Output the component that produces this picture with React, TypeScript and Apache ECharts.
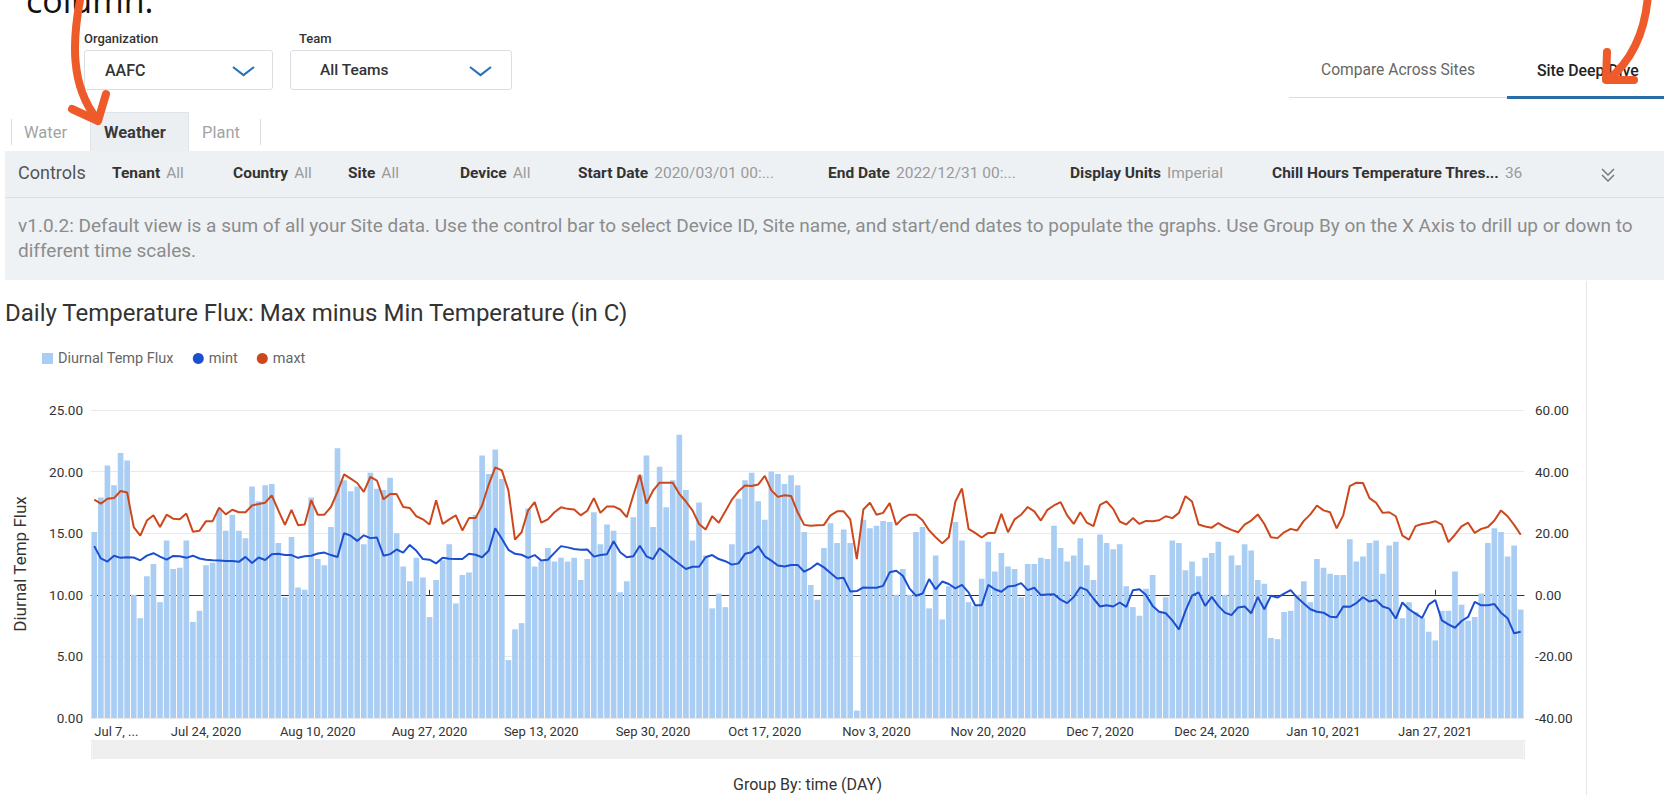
import React, { useEffect, useRef } from 'react';
import * as echarts from 'echarts';

const MONTHS = ['Jan', 'Feb', 'Mar', 'Apr', 'May', 'Jun', 'Jul', 'Aug', 'Sep', 'Oct', 'Nov', 'Dec'];
const START_DATE = Date.UTC(2020, 6, 7);
const DAY_COUNT = 218;
const categories: string[] = Array.from({ length: DAY_COUNT }, (_, i) => {
  const d = new Date(START_DATE + i * 86400000);
  return `${MONTHS[d.getUTCMonth()]} ${d.getUTCDate()}, ${d.getUTCFullYear()}`;
});

const CHART_TITLE = 'Daily Temperature Flux: Max minus Min Temperature (in C)';
const X_AXIS_NAME = 'Group By: time (DAY)';
const LEFT_AXIS_NAME = 'Diurnal Temp Flux';

// Diurnal temperature flux (left axis)
const diurnalFlux: number[] = [
  15.1, 17.9, 20.5, 18.9, 21.5, 20.9, 10.0, 8.1, 11.5, 12.5,
  9.4, 14.4, 12.1, 12.2, 14.4, 7.8, 8.7, 12.4, 12.6, 16.9,
  15.2, 16.5, 15.2, 14.6, 18.8, 17.6, 18.9, 19.0, 14.2, 9.8,
  14.7, 10.6, 10.4, 17.9, 12.9, 12.4, 15.5, 21.9, 19.3, 18.4,
  18.8, 14.1, 19.9, 18.6, 18.5, 19.5, 15.0, 12.3, 11.1, 13.0,
  11.4, 8.2, 11.2, 12.8, 14.1, 9.3, 11.6, 11.8, 16.5, 21.3,
  19.8, 21.8, 19.4, 4.7, 7.2, 7.7, 17.0, 12.3, 12.7, 13.8,
  12.7, 13.0, 12.7, 13.0, 11.2, 12.9, 16.7, 14.1, 15.7, 15.2,
  10.2, 11.1, 16.3, 19.7, 21.3, 15.5, 20.4, 17.1, 19.3, 23.0,
  18.5, 14.4, 17.5, 13.2, 8.9, 10.1, 9.0, 14.1, 17.8, 19.3,
  19.9, 17.6, 16.1, 20.0, 19.8, 19.0, 19.7, 18.9, 15.1, 10.8,
  9.6, 13.8, 15.8, 14.2, 15.3, 14.2, 0.6, 16.1, 15.4, 15.6,
  16.0, 15.9, 10.0, 12.1, 10.0, 15.1, 15.5, 8.9, 13.2, 8.0,
  10.7, 15.9, 14.4, 9.4, 9.1, 11.3, 14.3, 11.9, 13.4, 12.3,
  12.1, 9.8, 12.5, 12.5, 13.0, 12.9, 15.6, 13.8, 12.7, 13.2,
  14.6, 12.4, 11.2, 14.9, 14.2, 13.7, 14.1, 10.7, 9.0, 8.3,
  10.5, 11.6, 8.7, 9.8, 14.4, 14.2, 12.0, 12.7, 11.5, 13.0,
  13.4, 14.3, 10.0, 13.2, 12.4, 14.1, 13.6, 11.2, 10.9, 6.5,
  6.4, 8.6, 8.7, 10.0, 11.1, 9.4, 12.9, 12.2, 11.7, 11.6,
  11.6, 14.5, 12.7, 13.1, 14.2, 14.4, 11.7, 14.0, 14.3, 8.1,
  9.4, 8.6, 8.1, 7.0, 6.3, 8.7, 8.7, 11.9, 9.2, 7.9,
  8.2, 10.1, 14.2, 15.4, 15.1, 13.1, 14.0, 8.8,
];

// Daily minimum temperature (right axis)
const mint: number[] = [
  15.8, 11.8, 10.8, 12.7, 12.0, 12.2, 12.1, 11.2, 12.7, 13.5,
  12.4, 11.4, 12.6, 12.5, 12.0, 12.7, 11.8, 11.4, 11.2, 11.1,
  11.0, 11.0, 10.7, 12.3, 10.3, 12.1, 11.3, 13.2, 13.3, 12.9,
  12.9, 12.0, 12.5, 12.7, 13.4, 13.7, 12.9, 12.3, 20.0, 19.2,
  17.5, 19.3, 18.4, 18.6, 12.7, 13.2, 14.7, 13.7, 16.2, 14.3,
  11.6, 11.4, 10.2, 12.0, 11.7, 11.6, 11.6, 13.3, 13.0, 12.2,
  14.3, 21.6, 18.2, 14.6, 13.3, 13.0, 12.0, 12.9, 11.1, 11.4,
  13.6, 15.8, 15.4, 14.9, 14.6, 14.7, 12.4, 12.9, 13.2, 17.4,
  13.8, 12.2, 12.5, 15.9, 12.5, 11.6, 15.1, 13.4, 11.6, 10.0,
  8.4, 9.1, 9.1, 12.2, 12.9, 11.6, 10.9, 9.8, 10.2, 13.3,
  13.8, 15.8, 12.5, 11.1, 9.5, 9.2, 9.7, 9.7, 7.5, 8.6,
  10.2, 8.9, 7.1, 5.3, 5.5, 1.1, 1.2, 2.4, 2.3, 2.3,
  2.9, 7.3, 7.8, 6.2, 2.1, -0.3, 0.4, 5.1, 1.8, 4.3,
  3.5, 2.1, 3.2, 0.8, -3.4, -3.4, 3.2, 1.8, 1.0, 2.7,
  2.9, 3.8, 1.5, 2.3, -0.1, 0.1, 0.2, -1.6, -2.7, -0.7,
  2.4, 1.5, -1.2, -3.8, -3.4, -3.8, -2.5, -3.9, 1.5, 1.8,
  -0.1, -3.6, -5.5, -6.0, -8.3, -11.2, -5.2, -0.3, 0.8, -3.6,
  -0.7, -3.6, -5.8, -6.6, -4.1, -3.8, -6.0, -0.7, -4.7, -0.3,
  -0.9, 0.4, 1.5, -0.9, -2.8, -4.7, -5.5, -5.8, -7.1, -7.3,
  -3.8, -3.9, -2.7, -0.8, -2.2, -1.7, -3.8, -4.5, -7.7, -2.5,
  -4.7, -6.1, -7.5, -3.2, -1.7, -8.3, -9.6, -10.7, -8.5, -7.2,
  -2.3, -3.4, -3.4, -3.0, -5.8, -7.6, -12.5, -12.0,
];

// Daily maximum temperature (right axis)
const maxt: number[] = [
  30.9, 29.6, 31.2, 31.4, 33.7, 33.2, 22.0, 19.2, 24.1, 25.8,
  22.0, 26.0, 24.7, 24.5, 26.4, 20.5, 20.8, 23.9, 23.9, 28.3,
  26.1, 27.6, 26.8, 26.8, 29.0, 29.5, 29.9, 32.3, 27.4, 22.7,
  27.6, 22.6, 22.8, 30.7, 26.0, 26.0, 28.5, 33.4, 39.1, 37.7,
  36.3, 33.4, 38.3, 37.1, 31.0, 32.7, 32.7, 28.5, 28.2, 25.5,
  24.5, 22.8, 30.7, 23.0, 24.5, 25.8, 20.9, 24.9, 24.9, 29.0,
  35.8, 41.4, 40.4, 33.9, 17.9, 20.3, 27.4, 30.1, 23.4, 24.5,
  26.8, 28.4, 27.9, 27.7, 25.8, 27.3, 31.4, 26.6, 28.7, 28.7,
  27.7, 25.2, 32.3, 39.0, 29.6, 33.8, 36.4, 36.4, 36.4, 32.8,
  30.3, 27.4, 23.0, 21.2, 25.5, 23.4, 27.1, 30.9, 33.6, 35.5,
  35.3, 35.8, 38.6, 33.9, 31.8, 32.3, 32.1, 26.8, 22.7, 22.4,
  22.6, 22.7, 25.8, 27.1, 27.1, 24.5, 11.6, 27.7, 29.9, 26.0,
  26.6, 29.8, 22.7, 24.9, 26.0, 26.0, 24.2, 20.9, 18.7, 16.7,
  18.7, 30.3, 34.5, 21.4, 20.1, 18.6, 20.1, 20.1, 26.3, 20.3,
  24.5, 26.0, 28.5, 27.1, 24.1, 27.6, 29.0, 30.1, 25.8, 23.0,
  26.8, 23.4, 22.3, 29.2, 30.3, 27.9, 23.8, 22.8, 24.9, 23.0,
  24.0, 23.9, 24.2, 25.5, 24.9, 26.6, 32.0, 30.3, 22.8, 22.2,
  21.8, 23.3, 22.0, 21.1, 20.3, 22.8, 24.1, 26.1, 23.0, 18.7,
  18.4, 20.3, 21.4, 20.9, 24.0, 26.1, 29.0, 27.4, 26.8, 21.6,
  25.8, 35.3, 36.4, 36.3, 31.4, 29.9, 26.6, 26.8, 25.5, 19.2,
  17.9, 22.3, 23.0, 23.3, 23.9, 22.8, 17.1, 19.5, 22.2, 23.4,
  20.1, 21.4, 22.0, 24.1, 27.4, 25.5, 22.7, 19.5,
];

const BAR_COLOR = '#a9cdf3';
const MINT_COLOR = '#1c4fd0';
const MAXT_COLOR = '#cc481c';
const ORANGE = '#ef5a2a';

const controlItems: { label: string; value: string; x: number }[] = [
  { label: 'Tenant', value: 'All', x: 112 },
  { label: 'Country', value: 'All', x: 233 },
  { label: 'Site', value: 'All', x: 348 },
  { label: 'Device', value: 'All', x: 460 },
  { label: 'Start Date', value: '2020/03/01 00:...', x: 578 },
  { label: 'End Date', value: '2022/12/31 00:...', x: 828 },
  { label: 'Display Units', value: 'Imperial', x: 1070 },
  { label: 'Chill Hours Temperature Thres...', value: '36', x: 1272 },
];

const abs = (s: React.CSSProperties): React.CSSProperties => ({ position: 'absolute', ...s });

function Chart() {
  const ref = useRef<HTMLDivElement>(null);
  useEffect(() => {
    if (!ref.current) return;
    const chart = echarts.init(ref.current, undefined, { renderer: 'svg' });
    const fmt2 = (v: number) => v.toFixed(2);
    chart.setOption({
      animation: false,
      textStyle: { fontFamily: 'Roboto' },
      title: {
        text: CHART_TITLE,
        left: 5,
        top: 31,
        padding: 0,
        textStyle: { fontSize: 24, fontWeight: 'normal', color: '#333', fontFamily: 'Roboto' },
      },
      legend: {
        left: 42,
        top: 81,
        padding: 0,
        itemWidth: 11,
        itemHeight: 11,
        itemGap: 19,
        textStyle: { color: '#666', fontSize: 14.5, fontFamily: 'Roboto' },
        data: [
          { name: 'Diurnal Temp Flux', icon: 'rect' },
          { name: 'mint', icon: 'circle' },
          { name: 'maxt', icon: 'circle' },
        ],
      },
      grid: { left: 91, right: 66, top: 140, height: 308, containLabel: false, outerBoundsMode: 'none' },
      xAxis: [
        {
          type: 'category',
          data: categories,
          position: 'bottom',
          boundaryGap: true,
          axisLine: { show: false },
          axisTick: { show: false },
          splitLine: { show: false },
          axisLabel: {
            interval: 16,
            color: '#333',
            fontSize: 13,
            margin: 7,
            alignMinLabel: 'left',
            formatter: (v: string, i: number) => (i === 0 ? v.slice(0, 6) + ' ...' : v),
          },
          name: X_AXIS_NAME,
          nameLocation: 'middle',
          nameGap: 58,
          nameTextStyle: { fontSize: 16, color: '#333' },
        },
        {
          type: 'category',
          data: categories,
          position: 'bottom',
          axisLine: { show: true, onZero: true, onZeroAxisIndex: 1, lineStyle: { color: '#333', width: 1 } },
          axisTick: { show: true, inside: true, interval: 16, length: 5, alignWithLabel: true, lineStyle: { color: '#333' } },
          axisLabel: { show: false, interval: 16 },
          splitLine: { show: false },
        },
      ],
      yAxis: [
        {
          type: 'value',
          position: 'left',
          min: 0,
          max: 25,
          interval: 5,
          axisLine: { show: false },
          axisTick: { show: false },
          axisLabel: { formatter: fmt2, color: '#333', fontSize: 13.5, margin: 8 },
          splitLine: { lineStyle: { color: '#e9e9e9', width: 1 } },
          name: LEFT_AXIS_NAME,
          nameLocation: 'middle',
          nameRotate: 90,
          nameGap: 63,
          nameTextStyle: { fontSize: 17, color: '#333' },
        },
        {
          type: 'value',
          position: 'right',
          min: -40,
          max: 60,
          interval: 20,
          axisLine: { show: false },
          axisTick: { show: false },
          axisLabel: { formatter: fmt2, color: '#333', fontSize: 13.5, margin: 11 },
          splitLine: { show: false },
        },
      ],
      dataZoom: [
        {
          type: 'slider',
          xAxisIndex: [0, 1],
          start: 0,
          end: 100,
          left: 91,
          right: 66,
          top: 470,
          height: 19,
          showDetail: false,
          showDataShadow: false,
          brushSelect: false,
          backgroundColor: '#f5f5f5',
          fillerColor: '#efefef',
          borderColor: 'transparent',
          handleIcon: 'path://M0,0H10V100H0Z',
          handleSize: '100%',
          handleStyle: { color: '#f8f8f8', borderColor: '#ececec' },
          moveHandleSize: 0,
          moveHandleStyle: { opacity: 0 },
        },
      ],
      series: [
        {
          name: 'Diurnal Temp Flux',
          type: 'bar',
          xAxisIndex: 0,
          yAxisIndex: 0,
          data: diurnalFlux,
          barCategoryGap: '14%',
          itemStyle: { color: BAR_COLOR },
        },
        {
          name: 'mint',
          type: 'line',
          xAxisIndex: 0,
          yAxisIndex: 1,
          data: mint,
          symbol: 'none',
          lineStyle: { color: MINT_COLOR, width: 2 },
          itemStyle: { color: MINT_COLOR },
          z: 3,
        },
        {
          name: 'maxt',
          type: 'line',
          xAxisIndex: 0,
          yAxisIndex: 1,
          data: maxt,
          symbol: 'none',
          lineStyle: { color: MAXT_COLOR, width: 2 },
          itemStyle: { color: MAXT_COLOR },
          z: 3,
        },
      ],
    });
    return () => chart.dispose();
  }, []);
  return <div ref={ref} style={abs({ left: 0, top: 270, width: 1590, height: 525 })} />;
}

function Chevron({ x, y, w }: { x: number; y: number; w: number }) {
  return (
    <svg style={abs({ left: x, top: y, overflow: 'visible' })} width={w} height={12}>
      <polyline points={`1,2 ${w / 2},${10} ${w - 1},2`} fill="none" stroke="#2b72b5" strokeWidth={2.2} />
    </svg>
  );
}

export default function App() {
  return (
    <div
      style={abs({
        position: 'fixed',
        left: 0,
        top: 0,
        width: 1664,
        height: 795,
        background: '#fff',
        overflow: 'hidden',
        fontFamily: 'Roboto, sans-serif',
      })}
    >
      {/* slide annotation text, cropped at top */}
      <div style={abs({ left: 26, top: -17, fontSize: 34, lineHeight: '34px', fontFamily: '"Open Sans"', color: '#111' })}>
        column.
      </div>

      {/* org / team selectors */}
      <div style={abs({ left: 84, top: 31, fontSize: 13, fontWeight: 500, color: '#333' })}>Organization</div>
      <div style={abs({ left: 84, top: 50, width: 189, height: 40, border: '1px solid #dadee2', borderRadius: 3, boxSizing: 'border-box' })} />
      <div style={abs({ left: 105, top: 61, fontSize: 16, fontWeight: 500, color: '#333' })}>AAFC</div>
      <Chevron x={232} y={65} w={23} />

      <div style={abs({ left: 299, top: 31, fontSize: 13, fontWeight: 500, color: '#333' })}>Team</div>
      <div style={abs({ left: 290, top: 50, width: 222, height: 40, border: '1px solid #dadee2', borderRadius: 3, boxSizing: 'border-box' })} />
      <div style={abs({ left: 320, top: 61, fontSize: 15.5, fontWeight: 500, color: '#333' })}>All Teams</div>
      <Chevron x={469} y={65} w={23} />

      {/* view tabs */}
      <div style={abs({ left: 1321, top: 61, fontSize: 15.6, color: '#666' })}>Compare Across Sites</div>
      <div style={abs({ left: 1537, top: 61, fontSize: 15.8, fontWeight: 500, color: '#222' })}>Site Deep Dive</div>
      <div style={abs({ left: 1289, top: 97, width: 218, height: 1, background: '#dddddd' })} />
      <div style={abs({ left: 1507, top: 96, width: 157, height: 3, background: '#2a6ea8' })} />

      {/* data tabs */}
      <div style={abs({ left: 11, top: 119, width: 1, height: 26, background: '#dddddd' })} />
      <div style={abs({ left: 260, top: 119, width: 1, height: 26, background: '#dddddd' })} />
      <div style={abs({ left: 90, top: 112, width: 99, height: 39, background: '#eceff2', border: '1px solid #e0e4e8', borderBottom: 'none', boxSizing: 'border-box' })} />
      <div style={abs({ left: 24, top: 123, fontSize: 16.5, color: '#a3a3a3' })}>Water</div>
      <div style={abs({ left: 104, top: 123, fontSize: 16.5, fontWeight: 700, color: '#3a3a3a' })}>Weather</div>
      <div style={abs({ left: 202, top: 123, fontSize: 16.5, color: '#a3a3a3' })}>Plant</div>

      {/* controls bar */}
      <div style={abs({ left: 5, top: 151, width: 1659, height: 47, background: '#eef1f4', borderBottom: '1px solid #dcdfe3', boxSizing: 'border-box' })} />
      <div style={abs({ left: 18, top: 162, fontSize: 18, color: '#555' })}>Controls</div>
      {controlItems.map((c) => (
        <div key={c.label} style={abs({ left: c.x, top: 164, fontSize: 15.5, whiteSpace: 'nowrap' })}>
          <span style={{ fontWeight: 700, color: '#333' }}>{c.label}</span>
          <span style={{ color: '#9a9a9a', marginLeft: 6 }}>{c.value}</span>
        </div>
      ))}
      <svg style={abs({ left: 1600, top: 167 })} width={18} height={16}>
        <polyline points="2,2 8,8 14,2" fill="none" stroke="#777" strokeWidth={1.5} />
        <polyline points="2,8 8,14 14,8" fill="none" stroke="#777" strokeWidth={1.5} />
      </svg>

      {/* description */}
      <div style={abs({ left: 5, top: 198, width: 1659, height: 82, background: '#eff2f5' })} />
      <div style={abs({ left: 18, top: 214, fontSize: 19, lineHeight: '24.5px', color: '#8c8c8c', whiteSpace: 'nowrap' })}>
        v1.0.2: Default view is a sum of all your Site data. Use the control bar to select Device ID, Site name, and start/end dates to populate the graphs. Use Group By on the X Axis to drill up or down to
        <br />
        different time scales.
      </div>

      {/* right divider */}
      <div style={abs({ left: 1586, top: 281, width: 1, height: 514, background: '#e6e6e6' })} />

      <Chart />

      {/* annotation arrows */}
      <svg style={abs({ left: 0, top: 0, pointerEvents: 'none' })} width={1664} height={795}>
        <g fill="none" stroke={ORANGE} strokeWidth={8} strokeLinecap="round" strokeLinejoin="round">
          <path d="M 81 -5 C 72 40, 70 85, 97 119" />
          <path d="M 72 109 L 98 121 L 106 94" />
          <path d="M 1648 -5 C 1645 35, 1630 62, 1608 80" />
          <path d="M 1607 52 L 1606 80 L 1634 80" />
        </g>
      </svg>
    </div>
  );
}
